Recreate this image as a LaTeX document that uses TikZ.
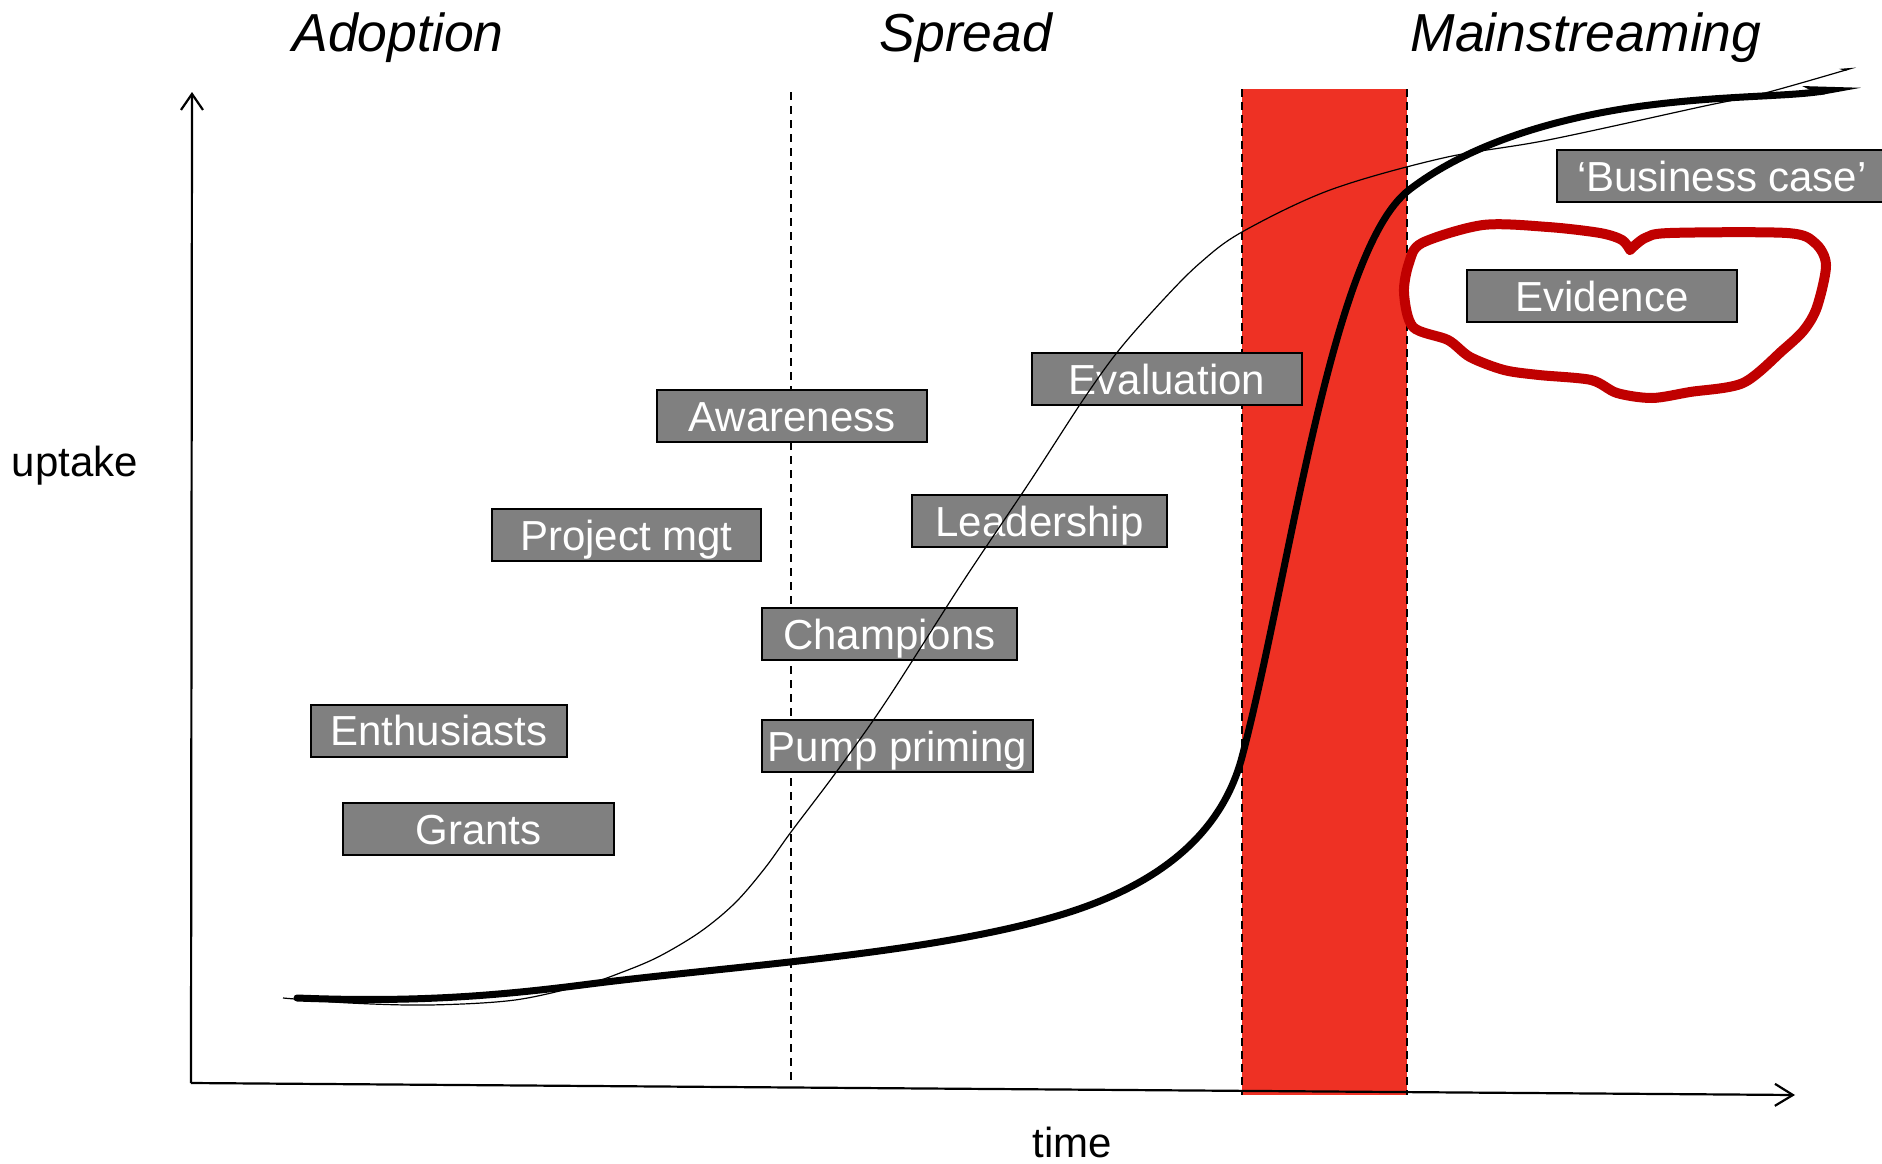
\documentclass[tikz,border=0pt]{standalone}
\usepackage{fontspec}
\setmainfont{Liberation Sans}
\usetikzlibrary{arrows.meta}
\definecolor{boxgray}{HTML}{808080}
\definecolor{bandred}{HTML}{EE3124}
\definecolor{ringred}{HTML}{C00000}
\newcommand{\boxfont}{\fontsize{42}{50}\selectfont}
\newcommand{\titlefont}{\fontsize{53.5}{60}\selectfont\itshape}
\tikzset{
  lbl/.style={draw=black, line width=2pt, fill=boxgray, text=white, font=\boxfont,
    inner sep=0pt, text height=30.1pt, text depth=0pt, minimum height=52pt, anchor=center},
  phase/.style={font=\titlefont, anchor=base, inner sep=0pt},
  axlabel/.style={font=\boxfont, anchor=base, inner sep=0pt},
  axis/.style={line width=2.2pt},
  bandedge/.style={line width=2pt, dash pattern=on 8pt off 5pt},
  phaseline/.style={line width=1.6pt, dash pattern=on 8pt off 6pt},
  thickcurve/.style={line width=7pt, line cap=round},
  thincurve/.style={line width=1.2pt},
  ring/.style={draw=ringred, line width=10pt, line join=round, line cap=round}
}
\begin{document}
\begin{tikzpicture}[x=1pt, y=-1pt]
\clip (0,0) rectangle (1882,1164);
\fill[white] (0,0) rectangle (1882,1164);

% red band
\fill[bandred] (1242,89) rectangle (1407,1095);
\coordinate (bandTL) at (1242,89);
\coordinate (bandBL) at (1242,1095);
\coordinate (bandTR) at (1407,89);
\coordinate (bandBR) at (1407,1095);
\draw[bandedge] (bandTL) -- (bandBL);
\draw[bandedge] (bandTR) -- (bandBR);

% phase divider
\coordinate (divT) at (791,92);
\coordinate (divB) at (791,1083);
\draw[phaseline] (divT) -- (divB);

% axes
\coordinate (origin) at (191,1083);
\coordinate (ytip) at (192,92);
\coordinate (xtip) at (1795,1095);
\draw[axis, -{Straight Barb[length=16pt,width=22pt]}] (origin) -- (ytip);
\draw[axis, -{Straight Barb[length=18pt,width=22pt]}] (origin) -- (xtip);

% titles and axis labels
\node[phase] (adoption) at (398,52) {Adoption};
\node[phase] (spread) at (966,52) {Spread};
\node[phase] (mainstream) at (1586,52) {Mainstreaming};
\node[axlabel] (uptake) at (75,476) {uptake};
\node[axlabel] (time) at (1072,1157) {time};

% boxes
\node[lbl, minimum width=270pt] (awareness) at (792,416) {Awareness};
\node[lbl, minimum width=269pt] (projmgt) at (626.5,535) {Project mgt};
\node[lbl, minimum width=256pt] (enthusiasts) at (439,730.5) {Enthusiasts};
\node[lbl, minimum width=271pt] (grants) at (478.5,829) {Grants};
\node[lbl, minimum width=255pt] (champions) at (889.5,634) {Champions};
\node[lbl, minimum width=271pt] (pump) at (897.5,746) {Pump priming};
\node[lbl, minimum width=255pt] (leadership) at (1039.5,521) {Leadership};
\node[lbl, minimum width=270pt] (evaluation) at (1167,379) {Evaluation};
\node[lbl, minimum width=270pt] (evidence) at (1602,296) {Evidence};
\node[lbl, minimum width=330pt] (business) at (1722,176) {‘Business case’};

% thin curve (expected uptake)
\draw[thincurve, -{Stealth[harpoon,length=14pt,width=6pt]}] plot[smooth, tension=0.55] coordinates {
 (283,998) (350,1003) (429,1005) (515,1000) (587,984) (620,973) (658,957)
 (700,932) (735,903) (765,868) (791,832) (837,771) (887,700) (962,583)
 (1029,483) (1083,400) (1119,350) (1163,300) (1200,263) (1242,232)
 (1330,190) (1443,158) (1548,140) (1700,107) (1765,93) (1856,67)};

% thick curve (actual uptake)
\coordinate (k0) at (297,998);
\coordinate (k1) at (582,985);
\coordinate (k2) at (1050,918);
\coordinate (k3) at (1242,757);
\coordinate (k4) at (1409,190);
\coordinate (k5) at (1635,107);
\coordinate (k6) at (1862,84);
\draw[thickcurve, -{Stealth[harpoon,length=40pt,width=16pt,inset=10pt]}]
  (k0) .. controls (400,1002) and (480,998) .. (k1)
       .. controls (720,967) and (920,955) .. (k2)
       .. controls (1150,890) and (1220,840) .. (k3)
       .. controls (1290,574) and (1331,250) .. (k4)
       .. controls (1471,142) and (1560,118) .. (k5)
       .. controls (1720,95) and (1790,97) .. (k6);

% red ring around Evidence (starts and ends at the cusp on top)
\draw[ring] plot[smooth, tension=0.5] coordinates {
 (1630,250) (1645,238) (1670,233) (1787,233) (1815,243) (1826,265) (1817,307)
 (1804,330) (1783,350) (1743,383) (1690,392) (1652,398) (1617,393) (1591,380)
 (1539,375) (1504,370) (1470,357) (1448,340) (1413,327) (1404,293) (1409,263)
 (1422,243) (1483,225) (1548,227) (1600,233) (1622,240) (1630,250)};
\end{tikzpicture}
\end{document}
